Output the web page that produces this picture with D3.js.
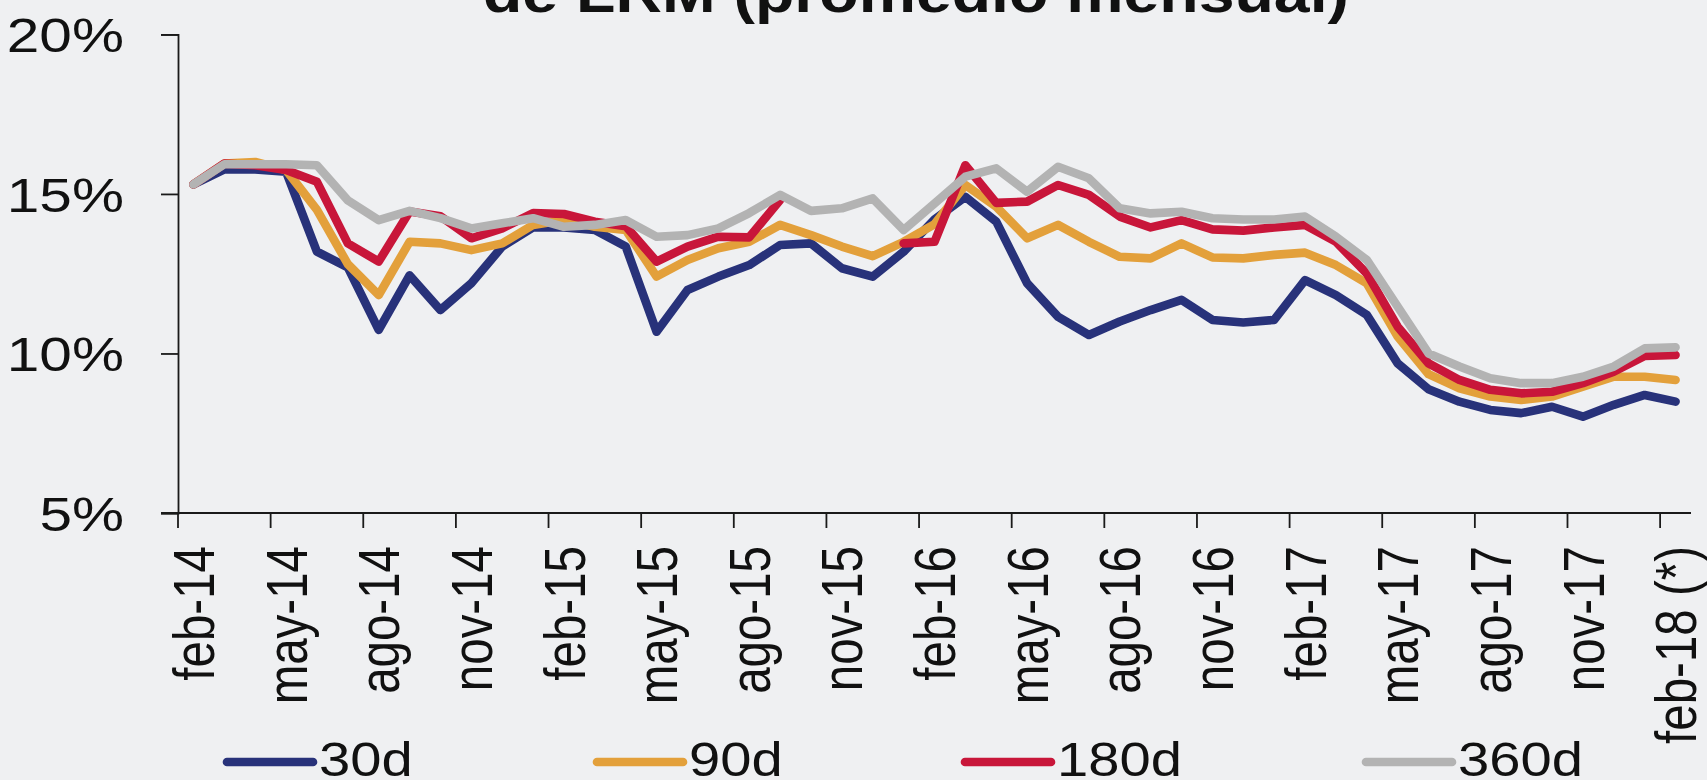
<!DOCTYPE html>
<html>
<head>
<meta charset="utf-8">
<script src="https://cdn.jsdelivr.net/npm/d3@7"></script>
<style>
  html, body { margin: 0; padding: 0; background: #eff0f2; overflow: hidden; }
  svg { display: block; font-family: "Liberation Sans", Arial, sans-serif; }
</style>
</head>
<body>
<div id="chart"></div>
<script>
// months, feb-14 .. feb-18
const months = [
  "feb-14", "mar-14", "abr-14", "may-14", "jun-14", "jul-14", "ago-14", "sep-14", "oct-14", "nov-14", "dic-14", "ene-15",
  "feb-15", "mar-15", "abr-15", "may-15", "jun-15", "jul-15", "ago-15", "sep-15", "oct-15", "nov-15", "dic-15", "ene-16",
  "feb-16", "mar-16", "abr-16", "may-16", "jun-16", "jul-16", "ago-16", "sep-16", "oct-16", "nov-16", "dic-16", "ene-17",
  "feb-17", "mar-17", "abr-17", "may-17", "jun-17", "jul-17", "ago-17", "sep-17", "oct-17", "nov-17", "dic-17", "ene-18",
  "feb-18 (*)"
];

// tasas en %
const s30 = [
  15.3, 15.77, 15.77, 15.7, 13.19, 12.7, 10.74, 12.45, 11.36, 12.2, 13.35, 13.95,
  13.95, 13.87, 13.35, 10.68, 11.99, 12.41, 12.77, 13.4, 13.45, 12.67, 12.41, 13.19,
  14.2, 14.91, 14.13, 12.2, 11.15, 10.58, 11.0, 11.36, 11.68, 11.05, 10.97, 11.05,
  12.3, 11.83, 11.21, 9.69, 8.88, 8.49, 8.23, 8.13, 8.33, 8.02, 8.39, 8.7,
  8.49
];
const s90 = [
  15.3, 15.95, 16.0, 15.75, 14.5, 12.8, 11.83, 13.5, 13.45, 13.24, 13.45, 14.03,
  14.18, 13.97, 13.87, 12.41, 12.93, 13.3, 13.5, 14.03, 13.71, 13.35, 13.05, 13.5,
  14.05, 15.28, 14.6, 13.61, 14.03, 13.5, 13.03, 12.98, 13.45, 13.01, 12.98, 13.09,
  13.16, 12.77, 12.2, 10.53, 9.35, 8.91, 8.65, 8.54, 8.65, 8.96, 9.27, 9.27,
  9.17
];
const s180 = [
  15.3, 15.95, 15.9, 15.75, 15.38, 13.45, 12.88, 14.45, 14.3, 13.61, 13.92, 14.4,
  14.37, 14.13, 13.99, 12.88, 13.35, 13.66, 13.64, 14.81, null, null, null, 13.45,
  13.5, 15.9, 14.72, 14.76, 15.28, 14.97, 14.29, 13.95, 14.18, 13.89, 13.85, 13.95,
  14.03, 13.5, 12.51, 10.84, 9.69, 9.17, 8.86, 8.75, 8.8, 9.07, 9.43, 9.92,
  9.95
];
const s360 = [
  15.3, 15.93, 15.93, 15.93, 15.9, 14.8, 14.18, 14.47, 14.24, 13.92, 14.08, 14.24,
  13.97, 14.03, 14.18, 13.66, 13.71, 13.92, 14.4, 14.97, 14.47, 14.55, 14.86, 13.87,
  14.7, 15.54, 15.8, 15.07, 15.85, 15.49, 14.55, 14.39, 14.44, 14.24, 14.2, 14.2,
  14.29, 13.66, 12.93, 11.47, 10.0, 9.59, 9.22, 9.07, 9.07, 9.27, 9.59, 10.16,
  10.19
];

const seriesNames = ["30d", "90d", "180d", "360d"];
const seriesValues = [s30, s90, s180, s360];
const colors = ["#28327a", "#e3a03b", "#c8163a", "#b3b3b3"];
const yTicks = [5, 10, 15, 20];
const title = "de LRM (promedio mensual)";

// the picture is a bit wider than tall, text too
const SX = 1.17;
const W = 1707, H = 780;
const plot = { left: 178, right: 1691, top: 34.4, bottom: 513 };

const svg = d3.select("#chart").append("svg")
  .attr("width", W)
  .attr("height", H);

svg.append("rect")
  .attr("width", W)
  .attr("height", H)
  .attr("fill", "#eff0f2");

const x = d3.scaleBand()
  .domain(months)
  .range([plot.left, plot.right])
  .padding(0);

const y = d3.scaleLinear()
  .domain([5, 20])
  .range([plot.bottom, plot.top]);

// title (cut at the top edge)
svg.append("text")
  .attr("x", 483)
  .attr("y", 12)
  .attr("font-size", 55)
  .attr("font-weight", "bold")
  .attr("fill", "#111")
  .attr("textLength", 866)
  .attr("lengthAdjust", "spacingAndGlyphs")
  .text(title);

// y axis
const yAxis = svg.append("g")
  .attr("transform", `translate(${plot.left},0)`)
  .call(d3.axisLeft(y).tickValues(yTicks).tickSize(17).tickFormat(d => d + "%"));

const SY = 1.22;
yAxis.selectAll("path, line").attr("stroke", "#1a1a1a").attr("stroke-width", 1.8);
yAxis.selectAll("text")
  .attr("font-size", 48)
  .attr("font-family", "'Liberation Sans', Arial, sans-serif")
  .attr("fill", "#111")
  .attr("x", -54 / SY)
  .attr("dy", "0.36em")
  .attr("transform", `scale(${SY},1)`);

// x axis: baseline + labels at band centres
const labelMonths = months.filter((m, i) => i % 3 === 0);

const xAxis = svg.append("g")
  .attr("transform", `translate(0,${plot.bottom})`)
  .call(d3.axisBottom(x).tickValues(labelMonths).tickSize(0).tickPadding(0));

xAxis.select(".domain").remove();
xAxis.selectAll("text")
  .attr("font-size", 47.5)
  .attr("font-family", "'Liberation Sans', Arial, sans-serif")
  .attr("fill", "#111")
  .attr("x", 0)
  .attr("y", 0)
  .attr("dy", "0.36em")
  .attr("text-anchor", "end")
  .attr("transform", `translate(0,33) scale(${SX * 1.03},1) rotate(-90)`);

svg.append("line")
  .attr("x1", plot.left - 17)
  .attr("x2", plot.right)
  .attr("y1", plot.bottom)
  .attr("y2", plot.bottom)
  .attr("stroke", "#1a1a1a")
  .attr("stroke-width", 1.8);

// tick marks sit on band boundaries, every 3 months
svg.append("g")
  .selectAll("line")
  .data(labelMonths)
  .join("line")
  .attr("x1", d => x(d))
  .attr("x2", d => x(d))
  .attr("y1", plot.bottom)
  .attr("y2", plot.bottom + 15)
  .attr("stroke", "#1a1a1a")
  .attr("stroke-width", 1.8);

// series
const line = d3.line()
  .defined(d => d.v != null)
  .x(d => x(d.m) + x.bandwidth() / 2)
  .y(d => y(d.v));

seriesValues.forEach((vals, k) => {
  svg.append("path")
    .datum(vals.map((v, i) => ({ m: months[i], v: v })))
    .attr("fill", "none")
    .attr("stroke", colors[k])
    .attr("stroke-width", 8.6)
    .attr("stroke-linejoin", "round")
    .attr("stroke-linecap", "round")
    .attr("d", line);
});

// legend
const legendX = [227, 597, 965, 1366];
const legend = svg.append("g")
  .selectAll("g")
  .data(seriesNames)
  .join("g")
  .attr("transform", (d, i) => `translate(${legendX[i]},0)`);

legend.append("line")
  .attr("x1", 0)
  .attr("x2", 86)
  .attr("y1", 762)
  .attr("y2", 762)
  .attr("stroke", (d, i) => colors[i])
  .attr("stroke-width", 8.6)
  .attr("stroke-linecap", "round");

legend.append("text")
  .attr("transform", `translate(92,776) scale(${SX},1)`)
  .attr("font-size", 48)
  .attr("fill", "#111")
  .text(d => d);
</script>
</body>
</html>
